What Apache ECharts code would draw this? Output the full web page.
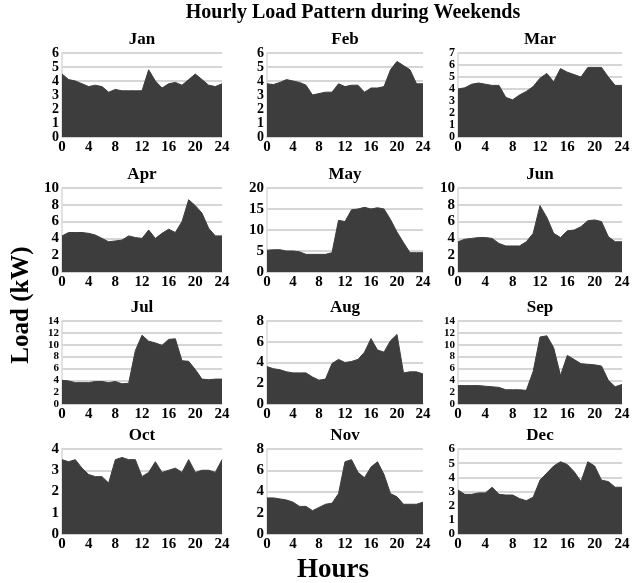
<!DOCTYPE html>
<html><head><meta charset="utf-8">
<script src="https://cdn.jsdelivr.net/npm/echarts@6/dist/echarts.min.js"></script>
<style>html,body{margin:0;padding:0;background:#fff}#c{width:642px;height:583px}</style>
</head><body><div id="c"></div>
<script>
const months = ['Jan','Feb','Mar','Apr','May','Jun','Jul','Aug','Sep','Oct','Nov','Dec'];
const hours = [0,1,2,3,4,5,6,7,8,9,10,11,12,13,14,15,16,17,18,19,20,21,22,23,24];
const jan = [4.5,4.1,4.0,3.8,3.6,3.7,3.6,3.2,3.4,3.3,3.3,3.3,3.3,4.8,4.0,3.5,3.8,3.9,3.7,4.1,4.5,4.1,3.7,3.6,3.8];
const feb = [3.8,3.75,3.9,4.1,4.0,3.9,3.7,3.0,3.1,3.2,3.2,3.8,3.6,3.7,3.7,3.2,3.5,3.5,3.6,4.8,5.4,5.1,4.8,3.8,3.8];
const mar = [4.0,4.1,4.4,4.5,4.4,4.3,4.3,3.3,3.1,3.5,3.8,4.2,4.9,5.3,4.6,5.7,5.4,5.2,5.0,5.8,5.8,5.8,5.0,4.3,4.3];
const apr = [4.3,4.7,4.7,4.7,4.6,4.4,4.0,3.6,3.7,3.8,4.3,4.1,4.0,5.0,4.0,4.6,5.1,4.7,6.0,8.6,7.9,7.0,5.2,4.3,4.3];
const may = [5.2,5.3,5.3,5.0,5.0,4.8,4.2,4.2,4.2,4.2,4.6,12.3,12.0,14.8,15.0,15.4,15.0,15.3,15.0,12.5,9.5,7.0,4.6,4.6,4.6];
const jun = [3.6,3.9,4.0,4.1,4.1,4.0,3.4,3.1,3.1,3.1,3.6,4.6,7.9,6.5,4.6,4.1,4.9,5.0,5.4,6.1,6.2,6.0,4.2,3.6,3.6];
const jul = [4.0,3.9,3.6,3.6,3.6,3.8,3.8,3.6,3.8,3.4,3.5,9.0,11.6,10.6,10.3,9.9,10.9,11.0,7.3,7.2,5.8,4.2,4.1,4.2,4.2];
const aug = [3.6,3.4,3.3,3.1,3.0,3.0,3.0,2.6,2.3,2.4,3.9,4.3,4.0,4.1,4.3,5.0,6.3,5.2,5.0,6.1,6.7,3.0,3.1,3.1,2.9];
const sep = [3.1,3.1,3.1,3.1,3.0,2.9,2.8,2.4,2.4,2.4,2.3,5.5,11.3,11.5,9.5,4.8,8.2,7.5,6.8,6.7,6.6,6.4,4.0,2.9,3.3];
const oct = [3.5,3.4,3.5,3.1,2.8,2.7,2.7,2.4,3.5,3.6,3.5,3.5,2.7,2.9,3.4,2.9,3.0,3.1,2.9,3.5,2.9,3.0,3.0,2.9,3.5];
const nov = [3.4,3.4,3.3,3.2,3.0,2.6,2.6,2.2,2.5,2.8,2.9,3.8,6.8,7.0,5.8,5.3,6.3,6.8,5.6,3.8,3.5,2.8,2.8,2.8,3.0];
const dec = [3.1,2.8,2.8,2.9,2.9,3.3,2.8,2.75,2.75,2.5,2.35,2.6,3.8,4.3,4.8,5.1,4.9,4.4,3.7,5.1,4.8,3.8,3.7,3.3,3.3];
const seriesValues = [jan,feb,mar,apr,may,jun,jul,aug,sep,oct,nov,dec];
const yMax  = [6,6,7,10,20,10,14,8,14,4,8,6];
const yStep = [1,1,1,2,5,2,2,2,2,1,2,1];
const xMax = 24, xStep = 4;

// layout
const cols = [[62,222],[267,423],[458,622]];
const rows = [[53,137],[188,272],[321,404],[449,534]];
const yFont = [14,14,12,15,15,15,11,15,11,15,15,13];
const FONT = '"Liberation Serif","Times New Roman",serif';

const grid=[], xAxis=[], yAxis=[], series=[], title=[];
months.forEach((m,i)=>{
  const c = cols[i%3], r = rows[Math.floor(i/3)];
  grid.push({left:c[0], top:r[0], width:c[1]-c[0], height:r[1]-r[0]});
  xAxis.push({type:'value', gridIndex:i, min:0, max:xMax, interval:xStep,
    axisLine:{show:true, lineStyle:{color:'#d0d0d0', width:1.5}}, axisTick:{show:false},
    splitLine:{show:false},
    axisLabel:{color:'#000', fontFamily:FONT, fontWeight:'bold', fontSize:15, margin:3,
      showMinLabel:true, showMaxLabel:true, hideOverlap:false}});
  yAxis.push({type:'value', gridIndex:i, min:0, max:yMax[i], interval:yStep[i],
    axisLine:{show:true, lineStyle:{color:'#d8d8d8', width:1.5}}, axisTick:{show:false},
    splitLine:{show:true, lineStyle:{color:'#d6d6d6', width:2}},
    axisLabel:{color:'#000', fontFamily:FONT, fontWeight:'bold', fontSize:yFont[i], margin:3,
      showMinLabel:true, showMaxLabel:true, hideOverlap:false}});
  series.push({type:'line', xAxisIndex:i, yAxisIndex:i, showSymbol:false, silent:true,
    data: hours.map((h,k)=>[h, seriesValues[i][k]]),
    lineStyle:{color:'#3d3d3d', width:1}, areaStyle:{color:'#3d3d3d', opacity:1}});
  title.push({text:m, left:(c[0]+c[1])/2, top:r[0]-22, textAlign:'center', padding:0,
    textStyle:{fontFamily:FONT, fontWeight:'bold', fontSize:17, color:'#000'}});
});
title.push({text:'Hourly Load Pattern during Weekends', left:353, top:3, textAlign:'center', padding:0,
  textStyle:{fontFamily:FONT, fontWeight:'bold', fontSize:20, color:'#000'}});

const chart = echarts.init(document.getElementById('c'), null, {renderer:'canvas'});
chart.setOption({
  animation:false, backgroundColor:'#fff',
  title, grid, xAxis, yAxis, series,
  graphic:[
    {type:'text', x:22, y:305, rotation:Math.PI/2, style:{text:'Load (kW)', fill:'#000',
      font:'bold 25px '+FONT, textAlign:'center', textVerticalAlign:'middle'}},
    {type:'text', x:333, y:570, style:{text:'Hours', fill:'#000',
      font:'bold 27px '+FONT, textAlign:'center', textVerticalAlign:'middle'}}
  ]
});
</script></body></html>
